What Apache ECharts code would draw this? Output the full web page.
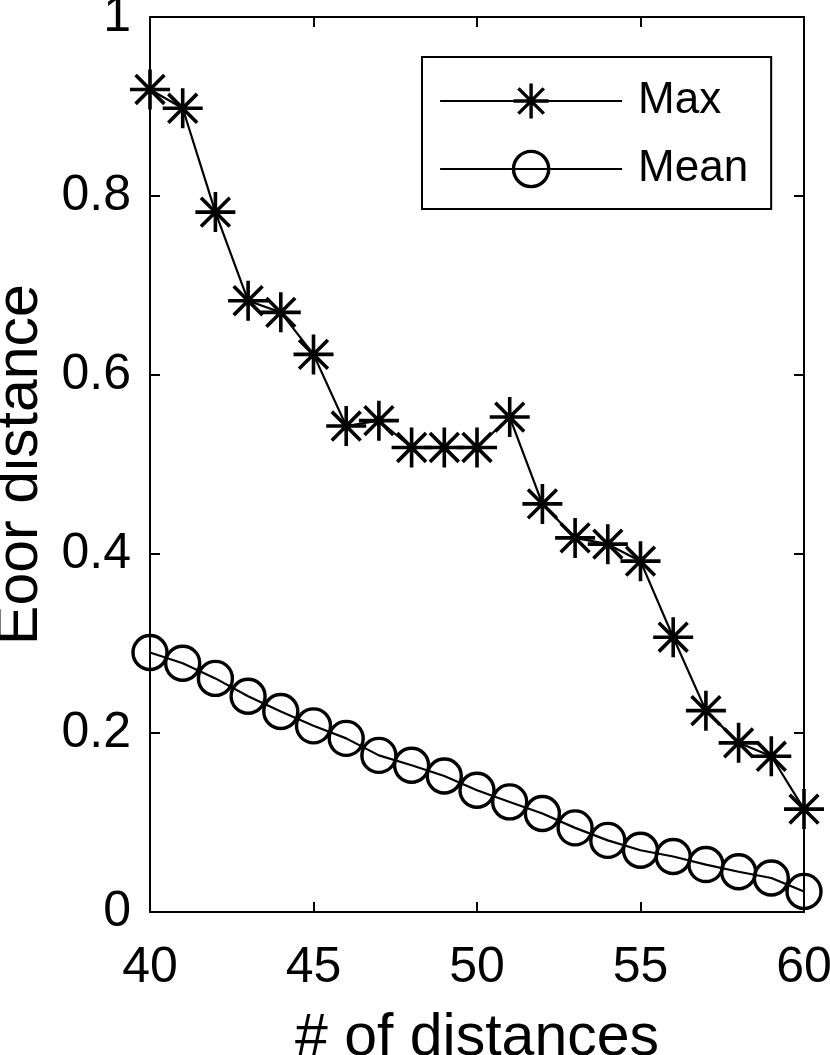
<!DOCTYPE html>
<html>
<head>
<meta charset="utf-8">
<script src="https://cdn.jsdelivr.net/npm/echarts@6/dist/echarts.min.js"></script>
<style>
html,body{margin:0;padding:0;background:#fff;}
#chart{width:830px;height:1055px;}
</style>
</head>
<body>
<div id="chart"></div>
<script>
const distances = [40,41,42,43,44,45,46,47,48,49,50,51,52,53,54,55,56,57,58,59,60];
const maxValues = [0.919,0.898,0.782,0.683,0.670,0.623,0.543,0.549,0.519,0.519,0.519,0.553,0.456,0.418,0.411,0.392,0.307,0.225,0.189,0.174,0.115];
const meanValues = [0.290,0.278,0.261,0.241,0.224,0.208,0.194,0.175,0.164,0.152,0.136,0.123,0.110,0.094,0.080,0.069,0.062,0.053,0.045,0.038,0.023];
const seriesNames = ['Max','Mean'];
const xTitle = '# of distances';
const yTitle = 'Eoor distance';

const FONT = 'Liberation Sans, Arial, Helvetica, sans-serif';
const starPath = 'path://M0,-1L0,1M-1,0L1,0M-0.72,-0.72L0.72,0.72M-0.72,0.72L0.72,-0.72';

function pairs(ys){ return distances.map((x,i)=>[x, ys[i]]); }

const chart = echarts.init(document.getElementById('chart'));
const axisLine = {show:true, onZero:false, lineStyle:{color:'#000', width:2}};
const axisTick = {show:true, inside:true, length:10, lineStyle:{color:'#000', width:2}};
chart.setOption({
  backgroundColor:'#fff',
  animation:false,
  grid:{left:150, right:26, top:17, bottom:143, containLabel:false, outerBoundsMode:'none'},
  xAxis:[{
    type:'value', min:40, max:60, interval:5, position:'bottom',
    axisLine, axisTick, splitLine:{show:false},
    axisLabel:{color:'#000', fontSize:50, fontFamily:FONT, margin:31},
    name:xTitle, nameLocation:'middle', nameGap:97,
    nameTextStyle:{color:'#000', fontSize:59, fontFamily:FONT}
  },{
    type:'value', min:40, max:60, interval:5, position:'top',
    axisLine, axisTick, axisLabel:{show:false}, splitLine:{show:false}
  }],
  yAxis:[{
    type:'value', min:0, max:1, interval:0.2, position:'left',
    axisLine, axisTick, splitLine:{show:false},
    axisLabel:{color:'#000', fontSize:50, fontFamily:FONT, margin:19},
    name:yTitle, nameLocation:'middle', nameGap:86,
    nameTextStyle:{color:'#000', fontSize:59, fontFamily:FONT}
  },{
    type:'value', min:0, max:1, interval:0.2, position:'right',
    axisLine, axisTick, axisLabel:{show:false}, splitLine:{show:false}
  }],
  legend:{
    left:422, top:57, orient:'vertical',
    backgroundColor:'#fff', borderColor:'#000', borderWidth:2, borderRadius:0,
    padding:[22,23,18,17], itemGap:24,
    itemWidth:182, itemHeight:44,
    itemStyle:{borderWidth:3.4},
    lineStyle:{width:2.2},
    textStyle:{color:'#000', fontSize:44, fontFamily:FONT, padding:[0,0,0,11]},
    data:seriesNames
  },
  series:[{
    name:seriesNames[0], type:'line', data:pairs(maxValues),
    symbol:starPath, symbolSize:40, showAllSymbol:true, clip:false,
    lineStyle:{color:'#000', width:2.2},
    itemStyle:{color:'#000', borderColor:'#000', borderWidth:3.6}
  },{
    name:seriesNames[1], type:'line', data:pairs(meanValues),
    symbol:'circle', symbolSize:34, showAllSymbol:true, clip:false,
    lineStyle:{color:'#000', width:2.2},
    itemStyle:{color:'rgba(0,0,0,0)', borderColor:'#000', borderWidth:3.4}
  }]
});
</script>
</body>
</html>
